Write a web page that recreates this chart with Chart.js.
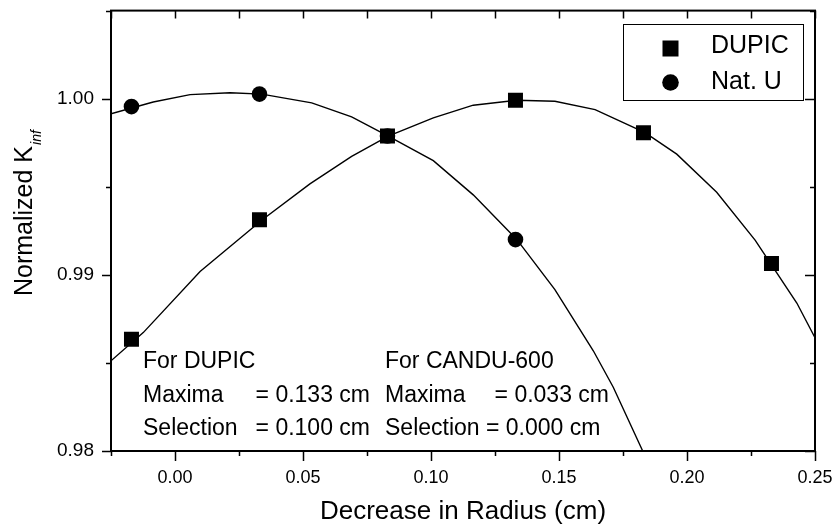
<!DOCTYPE html>
<html lang="en">
<head>
  <meta charset="UTF-8">
  <title>Normalized Kinf vs decrease in radius</title>
  <script src="https://cdn.jsdelivr.net/npm/chart.js"></script>
  <style>
    body {
      margin: 0;
      background: #ffffff;
    }
    .chart-wrapper {
      position: relative;
      width: 839px;
      height: 530px;
    }
  </style>
</head>
<body>
  <div class="chart-wrapper">
    <canvas id="kinfChart"></canvas>
  </div>

  <script>
    // measured points
    const dupicX = [-0.017, 0.033, 0.083, 0.133, 0.183, 0.233];
    const dupicValues = [0.98635, 0.99313, 0.99788, 0.99991, 0.99807, 0.99065];
    const natUX = [-0.017, 0.033, 0.083, 0.133];
    const natUValues = [0.99955, 1.00026, 0.99788, 0.99200];

    // fitted curves
    const dupicFitX = [-0.025, -0.0124, 0.0098, 0.0341, 0.0527, 0.069, 0.0833, 0.1009, 0.1165, 0.1335, 0.1484, 0.1641, 0.1836, 0.196, 0.2116, 0.2266, 0.2429, 0.25];
    const dupicFitY = [0.98512, 0.98672, 0.99019, 0.99313, 0.99516, 0.99672, 0.99788, 0.99891, 0.99963, 0.99991, 0.99985, 0.99938, 0.99807, 0.99685, 0.99469, 0.99197, 0.98840, 0.98643];
    const natUFitX = [-0.025, -0.0085, 0.0059, 0.0215, 0.0339, 0.0534, 0.069, 0.0833, 0.1009, 0.1165, 0.1335, 0.1484, 0.1634, 0.1712, 0.1827];
    const natUFitY = [0.99914, 0.99981, 1.00023, 1.00034, 1.00026, 0.99976, 0.99897, 0.99788, 0.99648, 0.99454, 0.99201, 0.98916, 0.98569, 0.98362, 0.98000];

    // axes
    const xTicks = [-0.025, 0, 0.025, 0.05, 0.075, 0.1, 0.125, 0.15, 0.175, 0.2, 0.225, 0.25];
    const xTickLabels = ['', '0.00', '', '0.05', '', '0.10', '', '0.15', '', '0.20', '', '0.25'];
    const yTicks = [0.98, 0.985, 0.99, 0.995, 1.0, 1.005];
    const yTickLabels = ['0.98', '', '0.99', '', '1.00', ''];

    const seriesNames = ['DUPIC', 'Nat. U'];
    const noteLeft = ['For DUPIC', 'Maxima', '= 0.133 cm', 'Selection', '= 0.100 cm'];
    const noteRight = ['For CANDU-600', 'Maxima', '= 0.033 cm', 'Selection = 0.000 cm'];

    const FONT = "'Liberation Sans', Arial, Helvetica, sans-serif";

    function toPoints(xs, ys) {
      return xs.map((x, i) => ({ x: x, y: ys[i] }));
    }

    // frame, mirror ticks, legend, notes and y title
    const decorPlugin = {
      id: 'decor',
      afterDraw(chart) {
        const ctx = chart.ctx;
        const area = chart.chartArea;
        const xs = chart.scales.x;
        const ys = chart.scales.y;
        ctx.save();
        ctx.strokeStyle = '#000';
        ctx.fillStyle = '#000';

        // ticks
        ctx.lineWidth = 1.5;
        ctx.beginPath();
        xTicks.forEach((v, i) => {
          const px = Math.round(xs.getPixelForValue(v)) + 0.5;
          const major = xTickLabels[i] !== '';
          ctx.moveTo(px, area.bottom);
          ctx.lineTo(px, area.bottom + (major ? 10 : 5));
          ctx.moveTo(px, area.top);
          ctx.lineTo(px, area.top + 8);
        });
        yTicks.forEach((v, i) => {
          const py = Math.round(ys.getPixelForValue(v)) + 0.5;
          const major = yTickLabels[i] !== '';
          ctx.moveTo(area.left, py);
          ctx.lineTo(area.left - (major ? 9 : 5), py);
          ctx.moveTo(area.right, py);
          ctx.lineTo(area.right - (major ? 10 : 5), py);
        });
        ctx.stroke();

        // frame
        ctx.lineWidth = 2;
        ctx.strokeRect(area.left, area.top, area.right - area.left, area.bottom - area.top);

        // legend
        ctx.lineWidth = 1;
        ctx.strokeRect(623.5, 24.5, 180, 76);
        ctx.fillRect(662.5, 40.5, 16, 16);
        ctx.beginPath();
        ctx.arc(670.5, 82.5, 8.3, 0, Math.PI * 2);
        ctx.fill();
        ctx.font = '25px ' + FONT;
        ctx.textAlign = 'left';
        ctx.textBaseline = 'alphabetic';
        ctx.fillText(seriesNames[0], 711, 53);
        ctx.fillText(seriesNames[1], 711, 89);

        // notes
        ctx.font = '23px ' + FONT;
        ctx.fillText(noteLeft[0], 143, 368);
        ctx.fillText(noteLeft[1], 143, 401.5);
        ctx.fillText(noteLeft[3], 143, 434.5);
        ctx.fillText(noteRight[0], 385, 368);
        ctx.fillText(noteRight[1], 385, 401.5);
        ctx.fillText(noteRight[3], 385, 434.5);
        ctx.textAlign = 'right';
        ctx.fillText(noteLeft[2], 370, 401.5);
        ctx.fillText(noteLeft[4], 370, 434.5);
        ctx.fillText(noteRight[2], 609, 401.5);

        // y title with subscript
        ctx.translate(32, 296);
        ctx.rotate(-Math.PI / 2);
        ctx.textAlign = 'left';
        ctx.font = '25px ' + FONT;
        const main = 'Normalized K';
        ctx.fillText(main, 0, 0);
        const w = ctx.measureText(main).width;
        ctx.font = 'italic 14px ' + FONT;
        ctx.fillText('inf', w + 1, 9);
        ctx.restore();
      }
    };

    new Chart(document.getElementById('kinfChart'), {
      type: 'scatter',
      data: {
        datasets: [
          {
            label: 'DUPIC fit',
            data: toPoints(dupicFitX, dupicFitY),
            showLine: true,
            borderColor: '#000',
            borderWidth: 1.4,
            pointRadius: 0,
            tension: 0
          },
          {
            label: 'Nat. U fit',
            data: toPoints(natUFitX, natUFitY),
            showLine: true,
            borderColor: '#000',
            borderWidth: 1.4,
            pointRadius: 0,
            tension: 0
          },
          {
            label: seriesNames[0],
            data: toPoints(dupicX, dupicValues),
            pointStyle: 'rect',
            pointRadius: 10.6,
            backgroundColor: '#000',
            borderColor: '#000',
            borderWidth: 0
          },
          {
            label: seriesNames[1],
            data: toPoints(natUX, natUValues),
            pointStyle: 'circle',
            pointRadius: 7.8,
            backgroundColor: '#000',
            borderColor: '#000',
            borderWidth: 0
          }
        ]
      },
      options: {
        responsive: true,
        maintainAspectRatio: false,
        animation: false,
        layout: {
          padding: { top: 7, right: 24, left: 0, bottom: 0 }
        },
        plugins: {
          legend: { display: false },
          tooltip: { enabled: false }
        },
        scales: {
          x: {
            type: 'linear',
            min: -0.025,
            max: 0.25,
            afterBuildTicks: (scale) => { scale.ticks = xTicks.map(v => ({ value: v })); },
            afterFit: (scale) => {
              scale.height = 79;
              scale.paddingLeft = 0;
              scale.paddingRight = 0;
            },
            grid: { display: false },
            border: { display: false },
            ticks: {
              autoSkip: false,
              maxRotation: 0,
              padding: 8,
              color: '#000',
              font: { family: FONT, size: 18 },
              callback: (v, i) => xTickLabels[i]
            },
            title: {
              display: true,
              text: 'Decrease in Radius (cm)',
              color: '#000',
              font: { family: FONT, size: 26 },
              padding: { top: 0, bottom: 3 }
            }
          },
          y: {
            type: 'linear',
            min: 0.98,
            max: 1.005,
            afterBuildTicks: (scale) => { scale.ticks = yTicks.map(v => ({ value: v })); },
            afterFit: (scale) => {
              scale.width = 111;
              scale.paddingTop = 0;
              scale.paddingBottom = 0;
            },
            grid: { display: false },
            border: { display: false },
            ticks: {
              autoSkip: false,
              padding: 9,
              color: '#000',
              font: { family: FONT, size: 19 },
              callback: (v, i) => yTickLabels[i]
            }
          }
        }
      },
      plugins: [decorPlugin]
    });
  </script>
</body>
</html>
